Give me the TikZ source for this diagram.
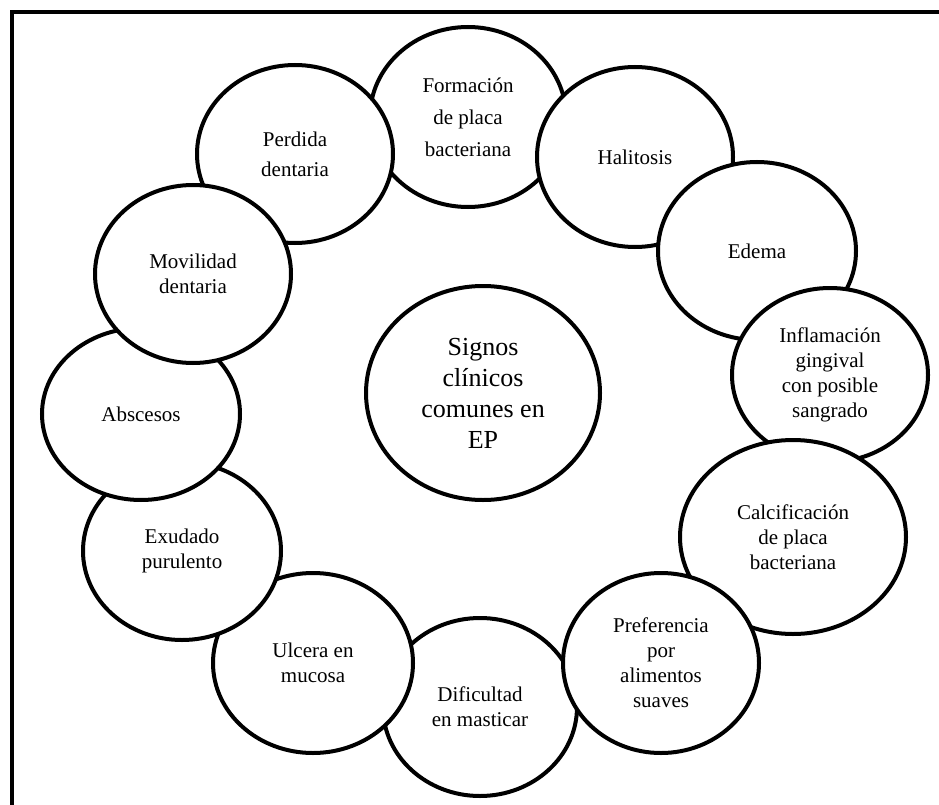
\documentclass[tikz,border=0pt]{standalone}
\usepackage{fontspec}
\setmainfont{Liberation Serif}
\usetikzlibrary{shapes.geometric}

\begin{document}
\begin{tikzpicture}[x=1pt, y=-1pt]
    \tikzstyle{sign} = [ellipse, draw=black, line width=4pt, fill=white, align=center, inner sep=0pt, font=\fontsize{21}{25}\selectfont]
    \tikzstyle{core} = [ellipse, draw=black, line width=4pt, fill=white, align=center, inner sep=0pt, font=\fontsize{26}{31}\selectfont]

    \useasboundingbox (0,0) rectangle (939,805);
    \fill [white] (0,0) rectangle (939,805);

    % Frame
    \draw [line width=4pt] (12,805) -- (12,12) -- (939,12);

    % Signs around the ring (drawn back to front)
    \node [sign, minimum width=196, minimum height=180, font=\fontsize{21}{32}\selectfont] (formacion) at (468,117) {Formación\\de placa\\bacteriana};
    \node [sign, minimum width=196, minimum height=178, font=\fontsize{21}{30}\selectfont] (perdida) at (295,154) {Perdida\\dentaria};
    \node [sign, minimum width=196, minimum height=180] (halitosis) at (635,157) {Halitosis};
    \node [sign, minimum width=198, minimum height=178] (edema) at (757,251) {Edema};
    \node [sign, minimum width=196, minimum height=174] (inflamacion) at (830,375) {Inflamación\\gingival\\con posible\\sangrado};
    \node [sign, minimum width=226, minimum height=194] (calcificacion) at (793,537) {Calcificación\\de placa\\bacteriana};
    \node [sign, minimum width=194, minimum height=178] (dificultad) at (480,707) {Dificultad\\en masticar};
    \node [sign, minimum width=196, minimum height=180] (preferencia) at (661,663) {Preferencia\\por\\alimentos\\suaves};
    \node [sign, minimum width=200, minimum height=180] (ulcera) at (313,663) {Ulcera en\\mucosa};
    \node [sign, minimum width=198, minimum height=178] (exudado) at (182,551) {Exudado\\purulento};
    \node [sign, minimum width=198, minimum height=172] (abscesos) at (141,414) {Abscesos};
    \node [sign, minimum width=196, minimum height=178] (movilidad) at (193,274) {Movilidad\\dentaria};

    % Center
    \node [core, minimum width=234, minimum height=214] (signos) at (483,393) {Signos\\clínicos\\comunes en\\EP};
\end{tikzpicture}
\end{document}
